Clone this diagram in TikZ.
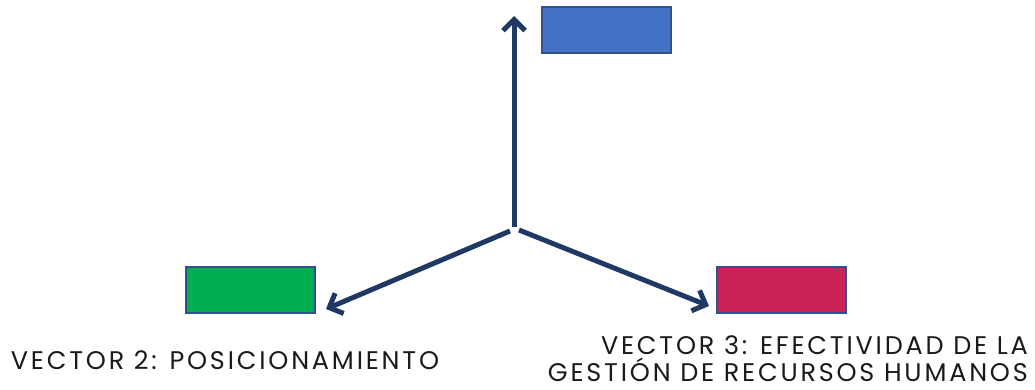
\documentclass[tikz,border=0pt]{standalone}
\usepackage{fontspec}
\setmainfont{Poppins}[LetterSpace=11]
\usetikzlibrary{arrows.meta}
\definecolor{navy}{HTML}{203864}
\definecolor{bblue}{HTML}{4472C4}
\definecolor{bgreen}{HTML}{00B050}
\definecolor{bred}{HTML}{CC2255}
\definecolor{bord}{HTML}{2F528F}
\definecolor{txt}{HTML}{1A1A1A}
\tikzset{
  box/.style={draw=bord, line width=2.5pt, minimum width=129pt, minimum height=46pt, inner sep=0pt},
  vec/.style={draw=navy, line width=5pt, -{Straight Barb[length=11pt,width=22pt,line width=5pt]}},
  lbl/.style={text=txt, font=\fontsize{25.5}{27}\selectfont, inner sep=0pt}
}
\begin{document}
\begin{tikzpicture}[x=1pt,y=-1pt]
\useasboundingbox (0,0) rectangle (1035,389);
\node[box, fill=bblue] (b1) at (606.5,30) {};
\node[box, fill=bgreen] (b2) at (250.5,290) {};
\node[box, fill=bred] (b3) at (781.5,290) {};
\coordinate (c) at (514,227);
\coordinate (cl) at (510,231);
\coordinate (cr) at (519,230);
\coordinate (t1) at (514,16);
\coordinate (t2) at (326,309);
\coordinate (t3) at (709,306);
\draw[vec] (c) -- (t1);
\draw[vec] (cl) -- (t2);
\draw[vec] (cr) -- (t3);
\node[lbl, anchor=center] (l2) at (225,360) {VECTOR 2: POSICIONAMIENTO};
\node[lbl, anchor=north east, align=right] (l3) at (1028,335) {VECTOR 3: EFECTIVIDAD DE LA\\GESTIÓN DE RECURSOS HUMANOS};
\end{tikzpicture}
\end{document}
